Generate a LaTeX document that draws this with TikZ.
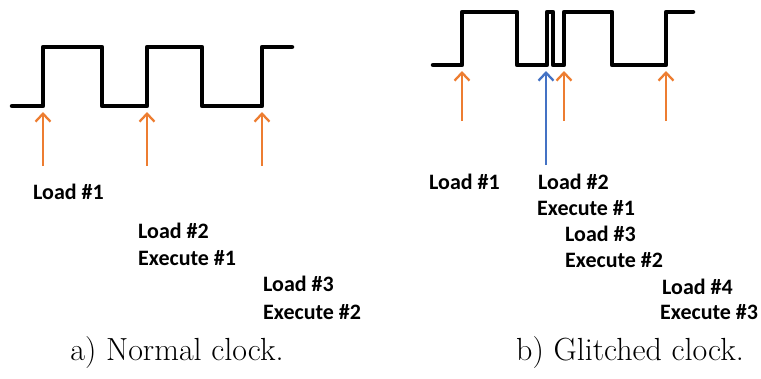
\documentclass[tikz,border=0pt]{standalone}
\usepackage{fontspec}
\newfontfamily\lblfont{Carlito}
\usetikzlibrary{arrows.meta,positioning,calc}
\definecolor{orng}{RGB}{237,125,49}
\definecolor{blu}{RGB}{68,114,196}
\tikzset{
  clk/.style={line width=4.5pt,line join=round,line cap=round},
  edge/.style={line width=2.3pt,-{Straight Barb[length=8pt,width=15pt]}},
  lbl/.style={font=\lblfont\bfseries\fontsize{22}{26}\selectfont,anchor=west,inner sep=0pt},
  captext/.style={font=\fontsize{32}{36}\selectfont,inner sep=0pt}
}

\begin{document}
\begin{tikzpicture}[x=1pt,y=-1pt]
\useasboundingbox (0,0) rectangle (761,378);

% a) normal clock
\draw[clk] (12,106) -| (43,47) -| (102,106) -| (147,47) -| (202,106) -| (262,47) -- (292,47);
\foreach \x/\n in {43/1,147/2,262/3} {
  \coordinate (na\n) at (\x,166);
  \coordinate (nt\n) at (\x,112);
  \draw[edge,orng] (na\n) -- (nt\n);
}
\node[lbl] (nl1) at (33,192) {Load \#1};
\node[lbl] (nl2) at (138,231) {Load \#2};
\node[lbl] (ne1) at (138,258) {Execute \#1};
\node[lbl] (nl3) at (263,284) {Load \#3};
\node[lbl] (ne2) at (263,312) {Execute \#2};
\node[captext] (capa) at (177,353) {a) Normal clock.};

% b) glitched clock
\draw[clk] (433,65) -| (462,12) -| (517,65) -| (547,12) -| (553,65) -| (564,12) -| (612,65) -| (666,12) -- (693,12);
\foreach \x/\n in {462/1,564/2,666/3} {
  \coordinate (ga\n) at (\x,121);
  \coordinate (gt\n) at (\x,71);
  \draw[edge,orng] (ga\n) -- (gt\n);
}
\coordinate (gb) at (546,165);
\coordinate (gbt) at (546,71);
\draw[edge,blu] (gb) -- (gbt);
\node[lbl] (gl1) at (429,182) {Load \#1};
\node[lbl] (gl2) at (538,182) {Load \#2};
\node[lbl] (ge1) at (537,208) {Execute \#1};
\node[lbl] (gl3) at (565,234) {Load \#3};
\node[lbl] (ge2) at (565,260) {Execute \#2};
\node[lbl] (gl4) at (662,287) {Load \#4};
\node[lbl] (ge3) at (660,312) {Execute \#3};
\node[captext] (capb) at (630,353) {b) Glitched clock.};
\end{tikzpicture}
\end{document}
